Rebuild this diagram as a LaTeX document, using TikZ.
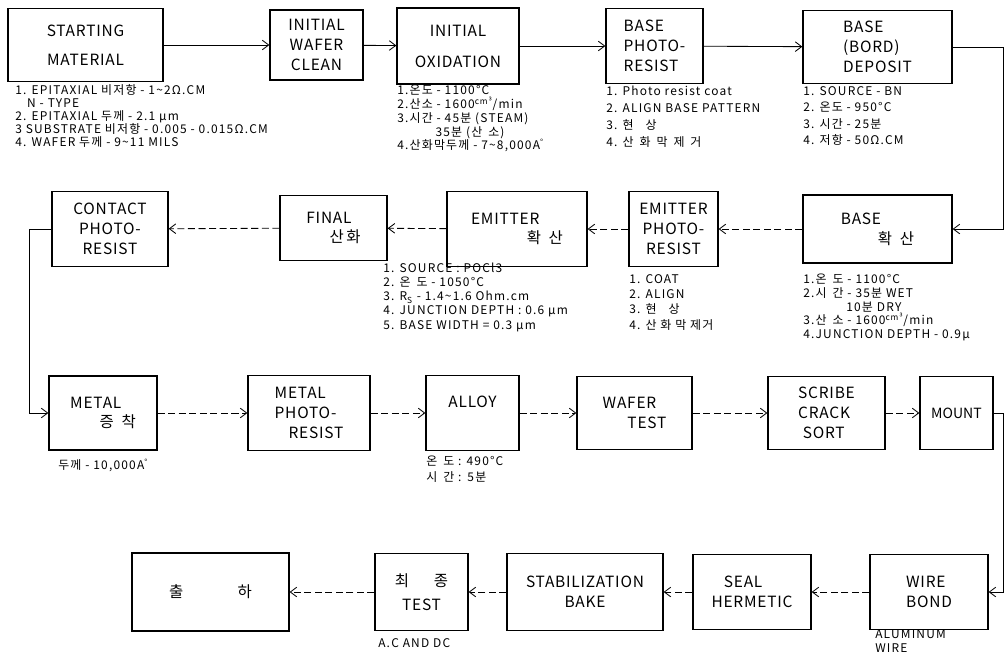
\documentclass[tikz,border=0pt]{standalone}
\usepackage{fontspec}
\setmainfont{Noto Sans CJK KR}
\newfontfamily\boxfont[LetterSpace=5]{Noto Sans CJK KR}
\newfontfamily\notefont[LetterSpace=10]{Noto Sans CJK KR}
\newcommand\notesize[1]{\notefont\fontsize{8.5}{#1}\selectfont}
\usetikzlibrary{arrows.meta,positioning}

\begin{document}
\begin{tikzpicture}[
    x=0.025cm, y=-0.025cm,
    box/.style={rectangle, draw, line width=0.9pt, align=center, inner sep=2pt, font=\boxfont\fontsize{11}{14}\selectfont},
    note/.style={anchor=north west, align=left, inner sep=0pt, font=\notesize{10pt}},
    flow/.style={-{Straight Barb[length=1.6mm, width=2.4mm]}, line width=0.6pt},
    dflow/.style={flow, dash pattern=on 5pt off 2.5pt},
]
\useasboundingbox (0,0) rectangle (1005,665);

% === ROW 1 ===
\node[box, minimum width=3.875cm, minimum height=1.825cm] (start) at (85.5,45) {STARTING\\[7pt]MATERIAL};
\node[box, minimum width=2.325cm, minimum height=1.75cm] (clean) at (316.5,45) {INITIAL\\WAFER\\CLEAN};
\node[box, minimum width=3.05cm, minimum height=1.9cm] (oxid) at (458,46) {INITIAL\\[8pt]OXIDATION};
\node[box, align=left, minimum width=2.425cm, minimum height=1.875cm] (bphoto) at (654.5,46) {BASE\\PHOTO-\\RESIST};
\node[box, align=left, minimum width=3.725cm, minimum height=1.825cm] (bdep) at (877.5,47) {BASE\\(BORD)\\DEPOSIT};

\node[note, font=\notesize{9.2pt}] (startnote) at (15,84) {1. EPITAXIAL 비저항 - 1\textasciitilde 2Ω.CM\\
  \hspace*{1em}N - TYPE\\
  2. EPITAXIAL 두께 - 2.1 μm\\
  3 SUBSTRATE 비저항 - 0.005 - 0.015Ω.CM\\
  4. WAFER 두께 - 9\textasciitilde 11 MILS};
\node[note, font=\notesize{9.8pt}] (oxidnote) at (397,85) {1.온도 - 1100°C\\
  2.산소 - 1600\textsuperscript{cm³}/min\\
  3.시간 - 45분 (STEAM)\\
  \hspace*{3.2em}35분 (산\enspace 소)\\
  4.산화막두께 - 7\textasciitilde 8,000A\textsuperscript{°}};
\node[note, font=\notesize{12pt}] (bphotonote) at (606,86) {1. Photo resist coat\\
  2. ALIGN BASE PATTERN\\
  3. 현\quad 상\\
  4. 산\enspace 화\enspace 막\enspace 제\enspace 거};
\node[note, font=\notesize{11.8pt}] (bdepnote) at (803,86) {1. SOURCE - BN\\
  2. 온도 - 950°C\\
  3. 시간 - 25분\\
  4. 저항 - 50Ω.CM};

\draw[flow] (start) -- (clean);
\draw[flow] (clean) -- (oxid);
\draw[flow] (oxid) -- (bphoto);
\draw[flow] (bphoto) -- (bdep);

% === ROW 2 ===
\node[box, minimum width=2.9cm, minimum height=1.875cm] (contact) at (110,229) {CONTACT\\PHOTO-\\RESIST};
\node[box, align=left, minimum width=2.675cm, minimum height=1.625cm] (final) at (333.5,228) {FINAL\\\hspace*{1.5em}산\,화};
\node[box, align=left, minimum width=3.5cm, minimum height=1.875cm] (ediff) at (517,229) {EMITTER\\\hspace*{3.6em}확\enspace 산};
\node[box, minimum width=2.225cm, minimum height=1.875cm] (ephoto) at (673.5,229) {EMITTER\\PHOTO-\\RESIST};
\node[box, align=left, minimum width=3.725cm, minimum height=1.7cm] (bdiff) at (877.5,229) {BASE\\\hspace*{2.4em}확\enspace 산};

\node[note, font=\notesize{10pt}] (ediffnote) at (383,263) {1. SOURCE : POCl3\\
  2. 온\enspace 도 - 1050°C\\
  3. R\textsubscript{S} - 1.4\textasciitilde 1.6 Ohm.cm\\
  4. JUNCTION DEPTH : 0.6 μm\\
  5. BASE WIDTH = 0.3 μm};
\node[note, font=\notesize{10.9pt}] (ephotonote) at (629,274) {1. COAT\\
  2. ALIGN\\
  3. 현\quad 상\\
  4. 산 화 막 제거};
\node[note, font=\notesize{9.7pt}] (bdiffnote) at (803,274) {1.온\enspace 도 - 1100°C\\
  2.시\enspace 간 - 35분 WET\\
  \hspace*{3.6em}10분 DRY\\
  3.산\enspace 소 - 1600\textsuperscript{cm³}/min\\
  4.JUNCTION DEPTH - 0.9μ};

\draw[dflow] (bdiff) -- (ephoto);
\draw[dflow] (ephoto) -- (ediff);
\draw[dflow] (ediff) -- (final);
\draw[dflow] (final) -- (contact);

% === ROW 3 ===
\node[box, align=left, minimum width=2.7cm, minimum height=1.85cm] (metal) at (103,413) {METAL\\\hspace*{1.9em}증\enspace 착};
\node[box, align=left, minimum width=3.05cm, minimum height=1.875cm] (mphoto) at (309,413) {METAL\\PHOTO-\\\hspace*{0.9em}RESIST};
\node[box, minimum width=2.325cm, minimum height=1.875cm] (alloy) at (472.5,413) {ALLOY\\[2pt]};
\node[box, align=left, minimum width=2.875cm, minimum height=1.825cm] (wtest) at (634.5,413) {WAFER\\\hspace*{1.6em}TEST};
\node[box, align=left, minimum width=2.925cm, minimum height=1.825cm] (scribe) at (826.5,413) {SCRIBE\\CRACK\\\hspace*{0.3em}SORT};
\node[box, font=\fontsize{10}{12}\selectfont, minimum width=1.825cm, minimum height=1.825cm] (mount) at (956.5,413) {MOUNT};

\node[note] (metalnote) at (58,459) {두께 - 10,000A\textsuperscript{°}};
\node[note, font=\notesize{11pt}] (alloynote) at (426,456) {온\enspace 도 : 490°C\\시\enspace 간 :\enspace 5분};

\draw[dflow] (metal) -- (mphoto);
\draw[dflow] (mphoto) -- (alloy);
\draw[dflow] (alloy) -- (wtest);
\draw[dflow] (wtest) -- (scribe);
\draw[dflow] (scribe) -- (mount);

% === ROW 4 ===
\node[box, minimum width=3.925cm, minimum height=1.95cm] (ship) at (210.5,592) {출\hspace{3.5em}하};
\node[box, minimum width=2.325cm, minimum height=1.925cm] (ftest) at (421.5,592) {최\hspace{1.6em}종\\[3pt]TEST};
\node[box, minimum width=3.9cm, minimum height=1.925cm] (stab) at (585,592) {STABILIZATION\\BAKE};
\node[box, align=left, minimum width=2.95cm, minimum height=1.875cm] (seal) at (752,592) {\hspace*{0.8em}SEAL\\HERMETIC};
\node[box, align=left, minimum width=2.95cm, minimum height=1.875cm] (wbond) at (929,592) {WIRE\\BOND};

\node[note] (ftestnote) at (378,638) {A.C AND DC};
\node[note, font=\notesize{10.5pt}] (wbondnote) at (875,629) {ALUMINUM\\WIRE};

\draw[dflow] (wbond) -- (seal);
\draw[dflow] (seal) -- (stab);
\draw[dflow] (stab) -- (ftest);
\draw[dflow] (ftest) -- (ship);

% === ROW TURNS ===
\draw[flow] (bdep.east) -- ++(51,0) |- (bdiff.east);
\draw[flow] (contact.west) -- ++(-22,0) |- (metal.west);
\draw[flow] (mount.east) -- ++(10,0) |- (wbond.east);

\end{tikzpicture}
\end{document}
